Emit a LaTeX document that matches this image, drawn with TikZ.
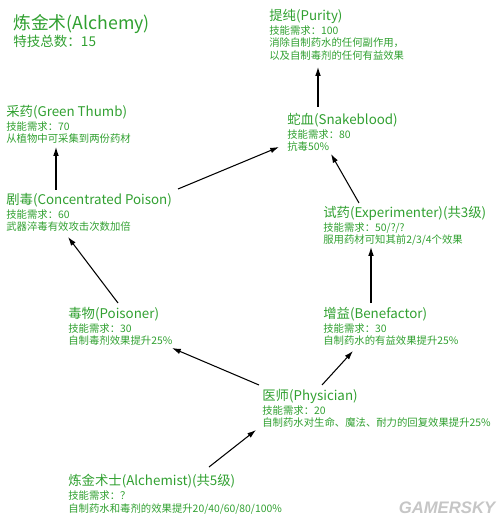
\documentclass[tikz,border=0pt]{standalone}
\usepackage{fontspec}
\setmainfont{Noto Sans CJK SC}
\newfontfamily\wmfont{Liberation Sans}
\usepackage{tikz}
\usetikzlibrary{arrows.meta}
\definecolor{skillgreen}{RGB}{48,160,48}
\newcommand{\skilltitle}[1]{{\fontsize{7.6}{8}\selectfont #1}\\[1.2pt]}

\begin{document}
\begin{tikzpicture}[x=0.02cm,y=-0.02cm,>={Latex[length=5pt,width=3.2pt]},
  skill/.style={anchor=north west,inner sep=0pt,align=left,text=skillgreen,
    font=\fontsize{5.9}{6.9}\selectfont},
  link/.style={->,line width=0.6pt}]
\useasboundingbox (0,0) rectangle (500,520);
% header
\node[skill,font=\fontsize{7.7}{9}\selectfont] (alchemy) at (13,14)
  {{\fontsize{10.1}{11}\selectfont 炼金术(Alchemy)}\\[1pt] 特技总数：15};
% skills
\node[skill] (purity) at (269,9)
  {\skilltitle{提纯(Purity)} 技能需求：100\\ 消除自制药水的任何副作用，\\ 以及自制毒剂的任何有益效果};
\node[skill] (greenthumb) at (6,105)
  {\skilltitle{采药(Green Thumb)} 技能需求：70\\ 从植物中可采集到两份药材};
\node[skill] (snake) at (287,112.5)
  {\skilltitle{蛇血(Snakeblood)} 技能需求：80\\ 抗毒50\%};
\node[skill] (concpoison) at (6,193)
  {\skilltitle{剧毒(Concentrated Poison)} 技能需求：60\\ 武器淬毒有效攻击次数加倍};
\node[skill] (experimenter) at (323,206)
  {\skilltitle{试药(Experimenter)(共3级)} 技能需求：50/?/?\\ 服用药材可知其前2/3/4个效果};
\node[skill] (poisoner) at (68,307)
  {\skilltitle{毒物(Poisoner)} 技能需求：30\\ 自制毒剂效果提升25\%};
\node[skill] (benefactor) at (323,307)
  {\skilltitle{增益(Benefactor)} 技能需求：30\\ 自制药水的有益效果提升25\%};
\node[skill] (physician) at (262,389)
  {\skilltitle{医师(Physician)} 技能需求：20\\ 自制药水对生命、魔法、耐力的回复效果提升25\%};
\node[skill] (alchemist) at (68,474)
  {\skilltitle{炼金术士(Alchemist)(共5级)} 技能需求：？\\ 自制药水和毒剂的效果提升20/40/60/80/100\%};
% watermark
\node[font=\wmfont\bfseries\itshape\fontsize{9.5}{10}\selectfont,text=gray!45] (watermark) at (447,508) {GAMERSKY};
% links
\draw[link] ([shift={(141,-7)}]alchemist.north west) -- ([shift={(-6,41)}]physician.north west);
\draw[link] ([shift={(-3,-4)}]physician.north west) -- ([shift={(104,41)}]poisoner.north west);
\draw[link] ([shift={(60,-4)}]physician.north west) -- ([shift={(30,44)}]benefactor.north west);
\draw[link] ([shift={(48,-4)}]benefactor.north west) -- ([shift={(48,41)}]experimenter.north west);
\draw[link] ([shift={(50,-4)}]poisoner.north west) -- ([shift={(62,44)}]concpoison.north west);
\draw[link] ([shift={(50,-3)}]concpoison.north west) -- ([shift={(50,42)}]greenthumb.north west);
\draw[link] ([shift={(172,-4)}]concpoison.north west) -- ([shift={(-8,34.5)}]snake.north west);
\draw[link] ([shift={(36,-3)}]experimenter.north west) -- ([shift={(44,41.5)}]snake.north west);
\draw[link] ([shift={(31,-5.5)}]snake.north west) -- ([shift={(49,58)}]purity.north west);
\end{tikzpicture}
\end{document}
